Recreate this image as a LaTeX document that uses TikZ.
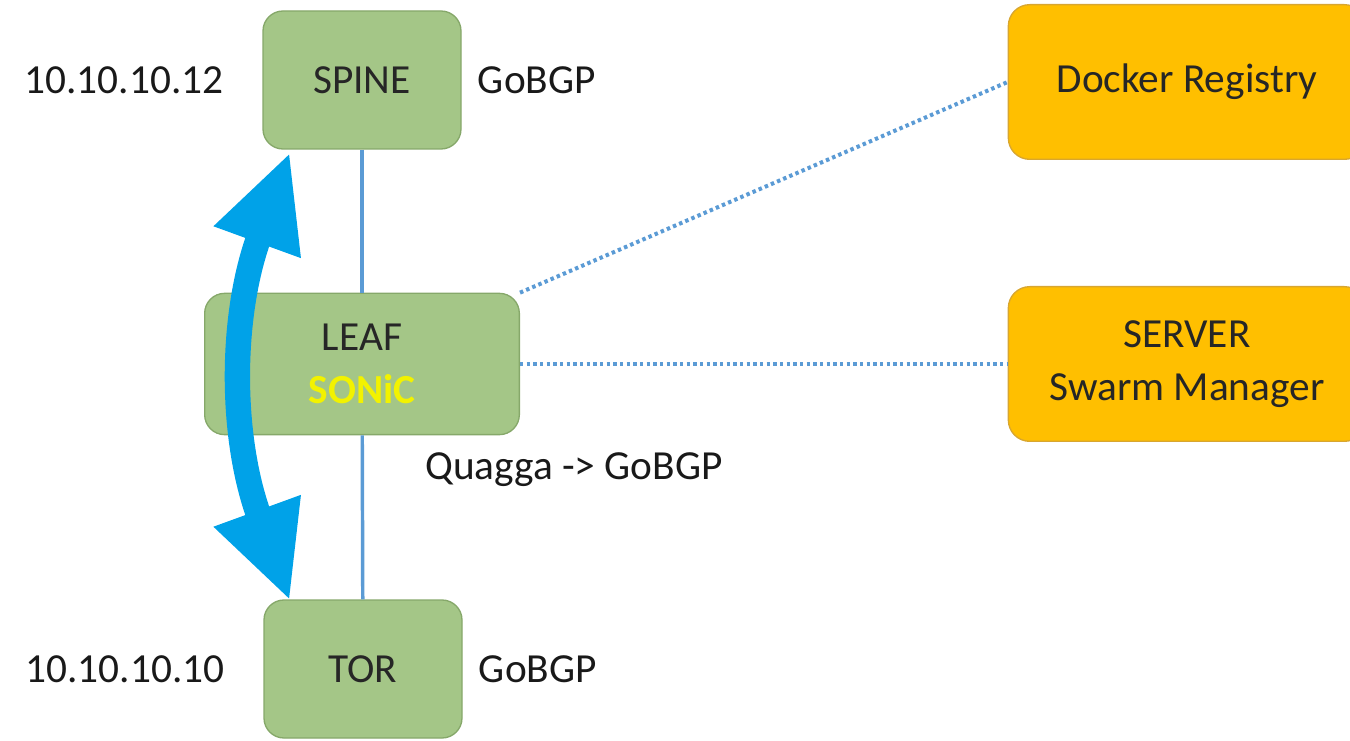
\documentclass[tikz,border=0pt]{standalone}
\usepackage{fontspec}
\setmainfont{Carlito}
\usetikzlibrary{arrows.meta,positioning}
\definecolor{boxgreen}{HTML}{A4C687}
\definecolor{edgegreen}{HTML}{86A86A}
\definecolor{boxgold}{HTML}{FFBF00}
\definecolor{edgegold}{HTML}{D8A630}
\definecolor{linkblue}{HTML}{5B9BD5}
\definecolor{arrowblue}{HTML}{00A2E8}
\definecolor{sonicyellow}{HTML}{F2F200}
\begin{document}
\begin{tikzpicture}[
  x=0.75pt, y=-0.75pt,
  every node/.style = {font=\fontsize{31}{40}\selectfont, align=center},
  switch/.style = {shape=rectangle, rounded corners=15pt, draw=edgegreen,
    line width=1pt, fill=boxgreen, text=black!85, minimum width=148.5pt,
    minimum height=103.5pt, inner sep=0pt},
  service/.style = {shape=rectangle, rounded corners=16pt, draw=edgegold,
    line width=1pt, fill=boxgold, text=black!85, minimum width=268pt,
    minimum height=116pt, inner sep=0pt},
  note/.style = {inner sep=0pt, text=black!90},
  link/.style = {draw=linkblue, line width=2.6pt},
  mgmt/.style = {draw=linkblue, line width=3pt, dash pattern=on 2.6pt off 2.4pt},
  move/.style = {draw=arrowblue, line width=19pt,
    {Triangle[width=64pt,length=72pt]}-{Triangle[width=64pt,length=72pt]}}
  ]
    \useasboundingbox (0,0) rectangle (1350,741);
    % switches
    \node[switch] (spine) at (362,80) {SPINE};
    \node[switch, minimum width=236pt, minimum height=106pt] (leaf) at (362,364)
      {LEAF\\\textcolor{sonicyellow}{\bfseries SONiC}};
    \node[switch] (tor) at (363,669) {TOR};
    % services
    \node[service] (registry) at (1187,82) {Docker Registry};
    \node[service] (server) at (1187,364) {SERVER\\Swarm Manager};
    % labels
    \node[note, left=29pt of spine] (spineip) {10.10.10.12};
    \node[note, right=12pt of spine] (spinebgp) {GoBGP};
    \node[note, left=29pt of tor] (torip) {10.10.10.10};
    \node[note, right=12pt of tor] (torbgp) {GoBGP};
    \node[note, anchor=west] (leafbgp) at (425,470) {Quagga -> GoBGP};
    % links
    \draw[link] (spine) -- (leaf);
    \draw[link] (leaf) -- (tor);
    \draw[mgmt] (leaf.north east) -- (registry.west);
    \draw[mgmt] (leaf.east) -- (server.west);
    % migration arrow
    \coordinate (top) at (290,152);
    \coordinate (bottom) at (290,601);
    \draw[move] (top) to[bend right=20] (bottom);
\end{tikzpicture}
\end{document}
